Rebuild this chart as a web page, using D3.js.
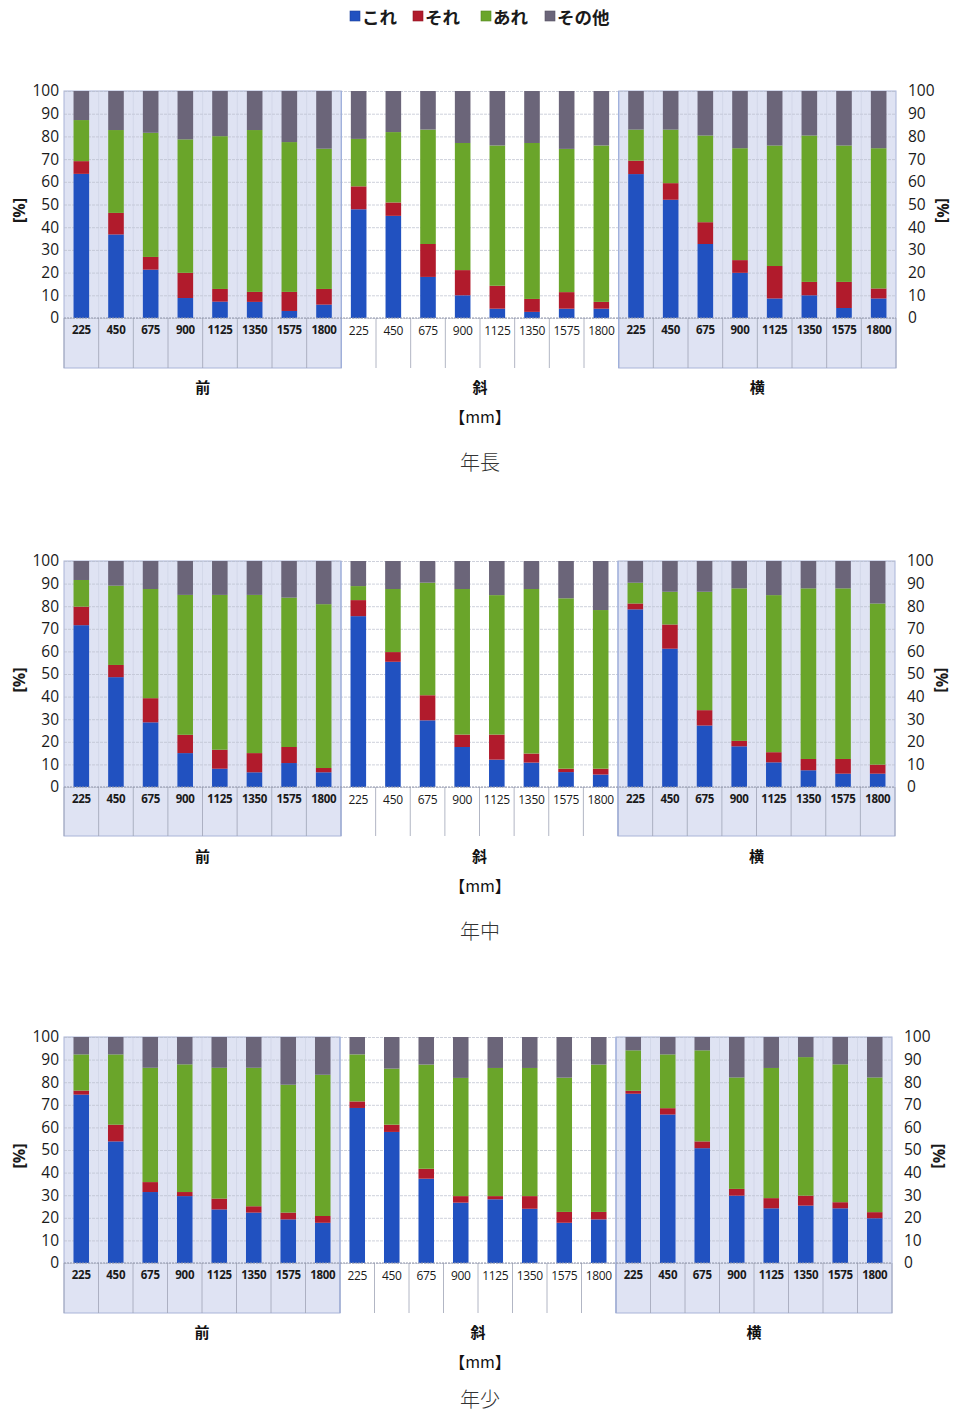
<!DOCTYPE html>
<html>
<head>
<meta charset="utf-8">
<script src="https://cdn.jsdelivr.net/npm/d3@7"></script>
<style>
  body { margin: 0; background: #fff; }
  svg { display: block; }
</style>
</head>
<body>
<svg id="chart" width="954" height="1412"></svg>
<script>
// Categories
const distances = ["225", "450", "675", "900", "1125", "1350", "1575", "1800"];
const directions = ["前", "斜", "横"];
const ages = ["年長", "年中", "年少"];
const seriesNames = ["これ", "それ", "あれ", "その他"];
const seriesColors = ["#2151c0", "#b11b2c", "#6aa52a", "#6b6579"];
const yTickValues = [0, 10, 20, 30, 40, 50, 60, 70, 80, 90, 100];

// 年長: shares [%] per direction (前 ×8, 斜 ×8, 横 ×8)
const nenchoKore  = [63.5, 36.8, 21.3, 8.8, 7.2, 7.1, 3.1, 5.9,   47.9, 45.0, 18.1, 10.0, 4.1, 2.7, 4.1, 4.1,   63.4, 52.1, 32.6, 19.9, 8.6, 10.0, 4.4, 8.6];
const nenchoSore  = [5.6, 9.5, 5.6, 11.1, 5.6, 4.4, 8.4, 6.9,     10.1, 5.9, 14.5, 11.1, 10.1, 5.7, 7.3, 3.0,   5.9, 7.3, 9.6, 5.6, 14.3, 5.9, 11.5, 4.4];
const nenchoAre   = [18.1, 36.5, 54.7, 58.8, 67.3, 71.3, 66.0, 61.8, 20.9, 31.0, 50.4, 56.0, 61.8, 68.7, 63.1, 68.9, 13.7, 23.6, 38.2, 49.3, 53.1, 64.5, 60.1, 61.8];
const nenchoOther = [12.8, 17.2, 18.4, 21.3, 19.9, 17.2, 22.5, 25.4, 21.1, 18.1, 17.0, 22.9, 24.0, 22.9, 25.5, 24.0, 17.0, 17.0, 19.6, 25.2, 24.0, 19.6, 24.0, 25.2];

// 年中
const nenchuKore  = [71.6, 48.6, 28.6, 15.0, 8.1, 6.5, 10.6, 6.5,  75.6, 55.4, 29.5, 17.7, 12.1, 10.8, 6.6, 5.5,  78.6, 61.2, 27.2, 18.0, 10.9, 7.4, 5.9, 5.9];
const nenchuSore  = [8.2, 5.4, 10.7, 8.1, 8.4, 8.5, 7.1, 1.9,      7.1, 4.3, 11.1, 5.5, 11.1, 4.0, 1.5, 2.6,      2.6, 10.7, 6.8, 2.4, 4.5, 5.0, 6.5, 4.0];
const nenchuAre   = [11.8, 35.1, 48.3, 61.9, 68.5, 70.0, 66.1, 72.5, 6.2, 27.9, 49.8, 64.4, 61.7, 72.8, 75.4, 70.2, 9.2, 14.5, 52.4, 67.5, 69.5, 75.5, 75.5, 71.3];
const nenchuOther = [8.4, 10.9, 12.4, 15.0, 15.0, 15.0, 16.2, 19.1, 11.1, 12.4, 9.6, 12.4, 15.1, 12.4, 16.5, 21.7, 9.6, 13.6, 13.6, 12.1, 15.1, 12.1, 12.1, 18.8];

// 年少
const nenshoKore  = [74.5, 53.8, 31.4, 29.6, 23.7, 22.3, 19.3, 17.8, 68.6, 58.0, 37.3, 26.7, 28.2, 24.0, 17.8, 19.3, 74.9, 65.7, 50.8, 29.8, 24.2, 25.4, 24.2, 19.8];
const nenshoSore  = [1.8, 7.4, 4.4, 1.8, 4.8, 2.8, 3.0, 3.0,        2.9, 3.2, 4.4, 2.9, 1.4, 5.6, 4.8, 3.3,        1.3, 2.8, 3.0, 3.0, 4.5, 4.4, 2.7, 2.7];
const nenshoAre   = [16.0, 31.1, 50.6, 56.5, 57.9, 61.3, 56.6, 62.5, 20.8, 24.8, 46.1, 52.3, 56.7, 56.7, 59.4, 65.2, 17.9, 23.8, 40.3, 49.3, 57.6, 61.3, 61.0, 59.6];
const nenshoOther = [7.7, 7.7, 13.6, 12.1, 13.6, 13.6, 21.1, 16.7,  7.7, 14.0, 12.2, 18.1, 13.7, 13.7, 18.0, 12.2,  5.9, 7.7, 5.9, 17.9, 13.7, 8.9, 12.1, 17.9];

const panelSeries = [
  [nenchoKore, nenchoSore, nenchoAre, nenchoOther],
  [nenchuKore, nenchuSore, nenchuAre, nenchuOther],
  [nenshoKore, nenshoSore, nenshoAre, nenshoOther]
];

// Panel frames
const frames = [
  { top: 91,   bottom: 318,  left: 64, right: 896, catBottom: 368,  groupY: 386,  mmY: 416,  titleY: 461 },
  { top: 561,  bottom: 787,  left: 64, right: 895, catBottom: 836,  groupY: 855,  mmY: 885,  titleY: 930 },
  { top: 1037, bottom: 1263, left: 64, right: 892, catBottom: 1313, groupY: 1331, mmY: 1361, titleY: 1398 }
];

const svg = d3.select("#chart");
const numFont = "'Open Sans', 'Liberation Sans', sans-serif";
const cjkFont = "'Noto Sans CJK JP', 'Noto Sans', sans-serif";
const lavender = "#dfe3f3";

// Legend
const legendX = [350, 413, 481, 545];
const legend = svg.append("g");
seriesNames.forEach((name, i) => {
  const g = legend.append("g").attr("transform", `translate(${legendX[i]},16)`);
  g.append("rect").attr("x", 0).attr("y", -5).attr("width", 10).attr("height", 10)
    .attr("fill", seriesColors[i]).attr("stroke", d3.color(seriesColors[i]).darker(0.6)).attr("stroke-width", 0.6);
  g.append("text").attr("x", 12).attr("y", 0).attr("dominant-baseline", "central")
    .attr("font-family", cjkFont).attr("font-weight", 700).attr("font-size", 17.5)
    .attr("fill", "#1a1a1a").text(name);
});

const slotKeys = d3.range(24);

frames.forEach((f, pi) => {
  const g = svg.append("g");
  const x = d3.scaleBand().domain(slotKeys).range([f.left, f.right]).padding(0);
  const y = d3.scaleLinear().domain([0, 100]).range([f.bottom, f.top]);
  const bw = x.bandwidth();
  const groupW = bw * 8;

  // Lavender backgrounds for 前 and 横 (plot + category area)
  [0, 2].forEach(gi => {
    g.append("rect")
      .attr("x", x(gi * 8)).attr("y", f.top)
      .attr("width", groupW).attr("height", f.catBottom - f.top)
      .attr("fill", lavender)
      .attr("stroke", "#a9b4d8").attr("stroke-width", 1);
  });

  // Horizontal gridlines
  g.append("g")
    .attr("transform", `translate(${f.left},0)`)
    .call(d3.axisLeft(y).tickValues(yTickValues).tickSize(-(f.right - f.left)).tickFormat(""))
    .call(a => a.select(".domain").remove())
    .call(a => a.selectAll("line").attr("stroke", "#b9bdcc").attr("stroke-opacity", 0.7)
      .attr("stroke-dasharray", "3,1"));

  // Faint vertical slot lines inside the shaded groups
  g.append("g").selectAll("line")
    .data(d3.range(1, 24).filter(i => i % 8 !== 0 && Math.floor(i / 8) !== 1))
    .join("line")
    .attr("x1", i => x(i)).attr("x2", i => x(i))
    .attr("y1", f.top).attr("y2", f.bottom)
    .attr("stroke", "#c8cde0").attr("stroke-opacity", 0.5);

  // Category cell separators
  g.append("g").selectAll("line")
    .data(d3.range(0, 25))
    .join("line")
    .attr("x1", i => i === 24 ? f.right : x(i)).attr("x2", i => i === 24 ? f.right : x(i))
    .attr("y1", f.bottom).attr("y2", f.catBottom)
    .attr("stroke", "#9ea3b5").attr("stroke-width", 0.8);

  // Group borders
  [8, 16].forEach(i => {
    g.append("line").attr("x1", x(i)).attr("x2", x(i))
      .attr("y1", f.top).attr("y2", f.catBottom)
      .attr("stroke", "#9fb0dc").attr("stroke-width", 1.2);
  });

  // Stacked bars
  const rows = slotKeys.map(i => {
    const r = { slot: i };
    seriesNames.forEach((s, si) => r[s] = panelSeries[pi][si][i]);
    return r;
  });
  const stacked = d3.stack().keys(seriesNames)(rows);
  const barW = bw * 0.45;
  g.append("g").selectAll("g")
    .data(stacked)
    .join("g")
    .attr("fill", (d, i) => seriesColors[i])
    .selectAll("rect")
    .data(d => d)
    .join("rect")
    .attr("x", d => x(d.data.slot) + (bw - barW) / 2)
    .attr("width", barW)
    .attr("y", d => y(Math.min(d[1], 100)))
    .attr("height", d => y(d[0]) - y(Math.min(d[1], 100)));

  // Baseline
  g.append("line").attr("x1", f.left).attr("x2", f.right)
    .attr("y1", f.bottom).attr("y2", f.bottom)
    .attr("stroke", "#8f95aa").attr("stroke-width", 1).attr("stroke-dasharray", "2,1");

  // Distance tick labels
  const xAxis = g.append("g").attr("transform", `translate(0,${f.bottom})`)
    .call(d3.axisBottom(x).tickSize(0).tickPadding(8).tickFormat(i => distances[i % 8]));
  xAxis.select(".domain").remove();
  xAxis.selectAll("text")
    .attr("font-family", numFont).attr("font-size", i => Math.floor(i / 8) === 1 ? 12 : 11.5)
    .attr("font-weight", i => Math.floor(i / 8) === 1 ? 400 : 700)
    .attr("fill", "#1a1a1a").attr("letter-spacing", "-0.3");

  // Left value axis
  const yl = g.append("g").attr("transform", `translate(${f.left - 5},0)`)
    .call(d3.axisLeft(y).tickValues(yTickValues).tickSize(0).tickPadding(0));
  yl.select(".domain").remove();
  yl.selectAll("text").attr("font-family", numFont).attr("font-size", 15.5).attr("fill", "#1a1a1a");

  // Right value axis
  const yr = g.append("g").attr("transform", `translate(${f.right + 12},0)`)
    .call(d3.axisRight(y).tickValues(yTickValues).tickSize(0).tickPadding(0));
  yr.select(".domain").remove();
  yr.selectAll("text").attr("font-family", numFont).attr("font-size", 15.5).attr("fill", "#1a1a1a");

  const midY = (f.top + f.bottom) / 2 + 6;
  g.append("text").attr("transform", `translate(19,${midY}) rotate(-90)`)
    .attr("text-anchor", "middle").attr("dominant-baseline", "central")
    .attr("font-family", numFont).attr("font-weight", 700).attr("font-size", 16)
    .attr("fill", "#1a1a1a").text("[%]");
  g.append("text").attr("transform", `translate(${f.right + 47},${midY}) rotate(90)`)
    .attr("text-anchor", "middle").attr("dominant-baseline", "central")
    .attr("font-family", numFont).attr("font-weight", 700).attr("font-size", 16)
    .attr("fill", "#1a1a1a").text("[%]");

  // Direction labels
  directions.forEach((d, di) => {
    g.append("text").attr("x", x(di * 8) + groupW / 2).attr("y", f.groupY)
      .attr("text-anchor", "middle").attr("dominant-baseline", "central")
      .attr("font-family", cjkFont).attr("font-weight", 700).attr("font-size", 15)
      .attr("fill", "#111").text(d);
  });

  // Unit
  g.append("text").attr("x", 480).attr("y", f.mmY)
    .attr("text-anchor", "middle").attr("dominant-baseline", "central")
    .attr("font-family", cjkFont).attr("font-size", 16).attr("fill", "#111")
    .text("【mm】");

  // Age title
  g.append("text").attr("x", 480).attr("y", f.titleY)
    .attr("text-anchor", "middle").attr("dominant-baseline", "central")
    .attr("font-family", cjkFont).attr("font-weight", 300).attr("font-size", 20).attr("fill", "#333")
    .text(ages[pi]);
});
</script>
</body>
</html>
